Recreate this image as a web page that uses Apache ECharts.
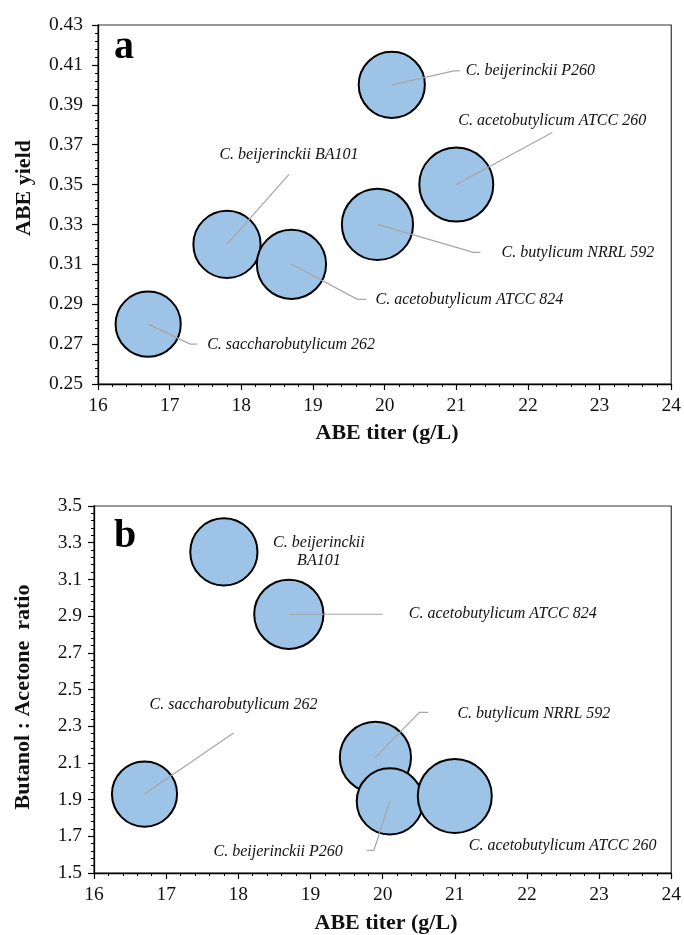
<!DOCTYPE html>
<html><head><meta charset="utf-8">
<script src="https://cdn.jsdelivr.net/npm/echarts@6/dist/echarts.min.js"></script>
<style>html,body{margin:0;padding:0;background:#fff}#c{width:684px;height:935px}</style>
</head><body><div id="c"></div>
<script>
// ---- data ----
const strains = ['C. saccharobutylicum 262', 'C. beijerinckii BA101', 'C. acetobutylicum ATCC 824',
                 'C. butylicum NRRL 592', 'C. beijerinckii P260', 'C. acetobutylicum ATCC 260'];
const titer = [16.7, 17.8, 18.7, 19.9, 20.1, 21.0];
const abeYield = [0.28, 0.32, 0.31, 0.33, 0.40, 0.35];
const butanolAcetone = [1.93, 3.25, 2.91, 2.13, 1.89, 1.92];
const bubbleValue = [0.31, 0.33, 0.35, 0.37, 0.32, 0.40];
const titerRange = [16, 24, 1];
const yieldRange = [0.25, 0.43, 0.02];
const ratioRange = [1.5, 3.5, 0.2];

// ---- styling / annotation layout (pixel offsets from bubble centre) ----
const SERIF = '"Liberation Serif", "Times New Roman", serif';
const layoutA = [
  {line: [[42, 20], [49, 20]], text: [59, 21], align: 'left'},
  {line: [[62, -70]], text: [62, -90], align: 'center'},
  {line: [[66, 35], [75, 35]], text: [84, 35], align: 'left'},
  {line: [[96, 28], [103, 28]], text: [124, 28], align: 'left'},
  {line: [[62, -14], [68, -14]], text: [74, -14], align: 'left'},
  {line: [[96, -52]], text: [96, -64], align: 'center'}
];
const layoutB = [
  {line: [[89, -61]], text: [89, -89], align: 'center'},
  {line: [], text: [95, 0], align: 'center', label: 'C. beijerinckii\nBA101'},
  {line: [[94, 0]], text: [120, 0], align: 'left'},
  {line: [[44, -45], [53, -45]], text: [82, -44], align: 'left'},
  {line: [[-16, 49], [-23, 49]], text: [-47, 50], align: 'right'},
  {line: [], text: [14, 50], align: 'left'}
];

function bubbleSize(v) { return 74 * Math.sqrt(v / Math.max.apply(null, bubbleValue)); }

function xAxisCfg(gridIndex) {
  return {
    gridIndex, type: 'value', min: titerRange[0], max: titerRange[1], interval: titerRange[2],
    axisLine: {show: true, lineStyle: {color: '#000', width: 1.3}},
    axisTick: {show: true, length: 6, lineStyle: {color: '#000', width: 1.2}},
    minorTick: {show: true, splitNumber: 5, length: 3, lineStyle: {color: '#000', width: 1}},
    splitLine: {show: false},
    axisLabel: {fontFamily: SERIF, fontSize: 19.5, color: '#111', margin: 12}
  };
}
function yAxisCfg(gridIndex, range, digits, margin) {
  return {
    gridIndex, type: 'value', min: range[0], max: range[1], interval: range[2],
    axisLine: {show: true, lineStyle: {color: '#000', width: 1.3}},
    axisTick: {show: true, length: 6, lineStyle: {color: '#000', width: 1.2}},
    minorTick: {show: true, splitNumber: 5, length: 3, lineStyle: {color: '#000', width: 1}},
    splitLine: {show: false},
    axisLabel: {fontFamily: SERIF, fontSize: 19.5, color: '#111', margin: margin,
                formatter: v => v.toFixed(digits)}
  };
}

function bubbleSeries(idx, yVals) {
  return {
    type: 'scatter', xAxisIndex: idx, yAxisIndex: idx, z: 2,
    data: titer.map((x, i) => [x, yVals[i]]),
    symbolSize: (val, p) => bubbleSize(bubbleValue[p.dataIndex]),
    itemStyle: {color: '#9dc3e6', borderColor: '#000', borderWidth: 2, opacity: 1},
    emphasis: {disabled: true}
  };
}
function labelSeries(idx, yVals, layout) {
  return {
    type: 'custom', xAxisIndex: idx, yAxisIndex: idx, z: 5, clip: false, silent: true,
    data: titer.map((x, i) => [x, yVals[i]]),
    encode: {x: 0, y: 1},
    renderItem: function (params, api) {
      const i = params.dataIndex;
      const c = api.coord([api.value(0), api.value(1)]);
      const L = layout[i];
      const children = [];
      if (L.line.length) {
        const pts = [[c[0], c[1]]].concat(L.line.map(d => [c[0] + d[0], c[1] + d[1]]));
        children.push({type: 'polyline', shape: {points: pts},
          style: {stroke: '#a6a6a6', lineWidth: 1.2, fill: null}});
      }
      children.push({type: 'text', x: c[0] + L.text[0], y: c[1] + L.text[1],
        style: {text: L.label || strains[i], fill: '#111', align: L.align, verticalAlign: 'middle',
                font: 'italic 16px ' + SERIF, lineHeight: 18}});
      return {type: 'group', children};
    }
  };
}

const chart = echarts.init(document.getElementById('c'), null, {renderer: 'canvas'});
chart.setOption({
  animation: false,
  backgroundColor: '#fff',
  grid: [
    {left: 98, right: 9, top: 25, height: 359, show: true, borderColor: '#333', borderWidth: 1.2, backgroundColor: 'transparent'},
    {left: 94, right: 9, top: 506, height: 367, show: true, borderColor: '#333', borderWidth: 1.2, backgroundColor: 'transparent'}
  ],
  xAxis: [xAxisCfg(0), xAxisCfg(1)],
  yAxis: [yAxisCfg(0, yieldRange, 2, 15), yAxisCfg(1, ratioRange, 1, 12)],
  series: [
    bubbleSeries(0, abeYield), labelSeries(0, abeYield, layoutA),
    bubbleSeries(1, butanolAcetone), labelSeries(1, butanolAcetone, layoutB)
  ],
  graphic: [
    {type: 'text', x: 114, y: 48, style: {text: 'a', font: 'bold 40px ' + SERIF, fill: '#000', align: 'left', verticalAlign: 'middle'}},
    {type: 'text', x: 114, y: 537, style: {text: 'b', font: 'bold 40px ' + SERIF, fill: '#000', align: 'left', verticalAlign: 'middle'}},
    {type: 'text', x: 24, y: 188, rotation: Math.PI / 2, style: {text: 'ABE yield', font: 'bold 22px ' + SERIF, fill: '#111', align: 'center', verticalAlign: 'middle'}},
    {type: 'text', x: 23, y: 697, rotation: Math.PI / 2, style: {text: 'Butanol : Acetone  ratio', font: 'bold 22px ' + SERIF, fill: '#111', align: 'center', verticalAlign: 'middle'}},
    {type: 'text', x: 387, y: 433, style: {text: 'ABE titer (g/L)', font: 'bold 22px ' + SERIF, fill: '#111', align: 'center', verticalAlign: 'middle'}},
    {type: 'text', x: 386, y: 923, style: {text: 'ABE titer (g/L)', font: 'bold 22px ' + SERIF, fill: '#111', align: 'center', verticalAlign: 'middle'}}
  ]
});
</script>
</body></html>
